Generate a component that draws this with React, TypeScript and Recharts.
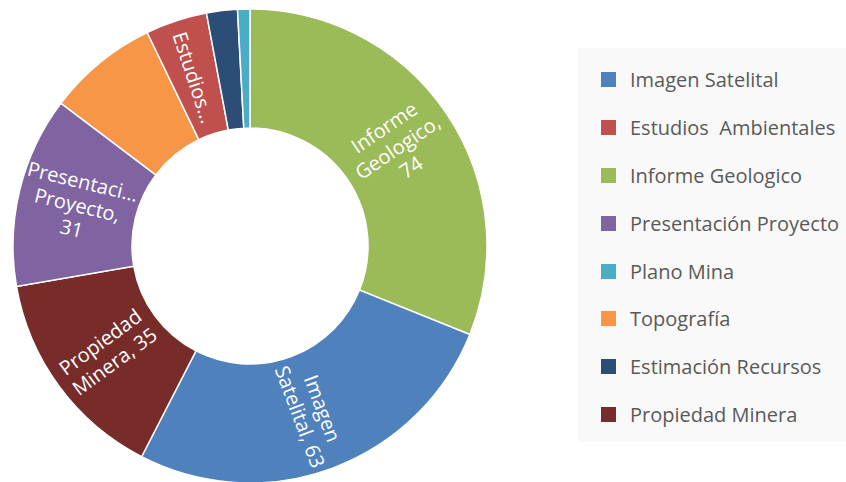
import { PieChart, Pie, Cell, Legend } from 'recharts';

// legend order (as shown in the reference)
const categories = [
  'Imagen Satelital',
  'Estudios  Ambientales',
  'Informe Geologico',
  'Presentación Proyecto',
  'Plano Mina',
  'Topografía',
  'Estimación Recursos',
  'Propiedad Minera',
];
const values = [63, 10, 74, 31, 2, 18, 5, 35];
const colors = ['#4F81BD', '#C0504D', '#9BBB59', '#8064A2', '#4BACC6', '#F79646', '#2C4D75', '#772C2A'];

// clockwise drawing order, starting at 12 o'clock
const pieOrder = [2, 0, 7, 3, 5, 1, 6, 4];

// wrapped data labels inside each slice (empty = no label)
const sliceLabels: string[][] = [
  ['Informe', 'Geologico,', '74'],
  ['Imagen', 'Satelital, 63'],
  ['Propiedad', 'Minera, 35'],
  ['Presentaci...', 'Proyecto,', '31'],
  [],
  ['Estudios...'],
  [],
  [],
];

const data = pieOrder.map(i => ({ name: categories[i], value: values[i], color: colors[i] }));

const RAD = Math.PI / 180;

function renderLabel(p: any) {
  const lines = sliceLabels[p.index];
  if (!lines || lines.length === 0) return null;
  const r = (p.innerRadius + p.outerRadius) / 2;
  const x = p.cx + r * Math.cos(-p.midAngle * RAD);
  const y = p.cy + r * Math.sin(-p.midAngle * RAD);
  let rot = -p.midAngle;
  while (rot > 90) rot -= 180;
  while (rot <= -90) rot += 180;
  const lh = 24;
  const y0 = -((lines.length - 1) * lh) / 2;
  return (
    <text
      transform={`translate(${x},${y}) rotate(${rot})`}
      fill="#ffffff"
      fontSize={20}
      fontFamily="'Open Sans', sans-serif"
      textAnchor="middle"
      dominantBaseline="central"
    >
      {lines.map((l, i) => (
        <tspan key={i} x={0} y={y0 + i * lh}>
          {l}
        </tspan>
      ))}
    </text>
  );
}

function LegendBox() {
  return (
    <div
      style={{
        width: 268,
        height: 394,
        background: '#F9F9F9',
        boxSizing: 'border-box',
        paddingTop: 8,
        paddingLeft: 23,
        fontFamily: "'Open Sans', sans-serif",
        fontSize: 20,
        color: '#595959',
        whiteSpace: 'nowrap',
        overflow: 'hidden',
      }}
    >
      {categories.map((c, i) => (
        <div key={c} style={{ display: 'flex', alignItems: 'center', height: 47.8 }}>
          <span style={{ width: 15, height: 15, background: colors[i], marginRight: 14, flexShrink: 0 }} />
          <span style={{ whiteSpace: 'pre' }}>{c}</span>
        </div>
      ))}
    </div>
  );
}

export default function App() {
  return (
    <div style={{ width: 846, height: 482, background: '#ffffff', overflow: 'hidden' }}>
      <style>{'body{margin:0}'}</style>
      <PieChart width={846} height={482} margin={{ top: 0, right: 0, bottom: 0, left: 0 }}>
        <Pie
          data={data}
          dataKey="value"
          nameKey="name"
          cx={250}
          cy={246}
          innerRadius={118}
          outerRadius={237}
          startAngle={90}
          endAngle={-270}
          stroke="#ffffff"
          strokeWidth={1.5}
          label={renderLabel}
          labelLine={false}
          isAnimationActive={false}
        >
          {data.map((d, i) => (
            <Cell key={i} fill={d.color} />
          ))}
        </Pie>
        <Legend
          content={() => <LegendBox />}
          wrapperStyle={{ position: 'absolute', left: 578, top: 48, width: 268, height: 394 }}
        />
      </PieChart>
    </div>
  );
}
